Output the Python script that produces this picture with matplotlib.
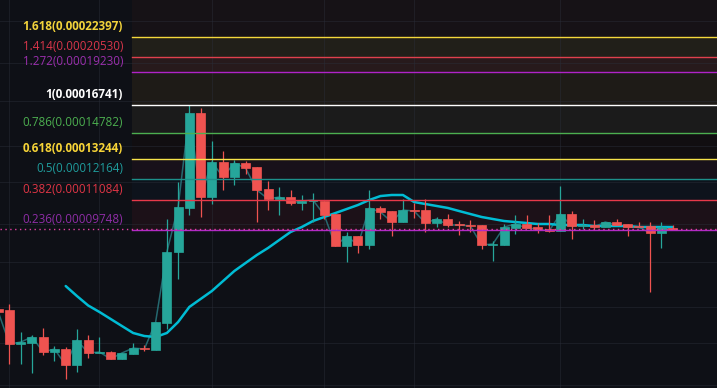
import numpy as np
import matplotlib.pyplot as plt

# candle prices, in units of 1e-8
opens = [6934, 6906, 5963, 5988, 6148, 5762, 5836, 5448, 6067, 5738,
         5762, 5592, 5713, 5861, 5812, 6529, 8869, 10720, 16135, 11240,
         13067, 12253, 13011, 12791, 11631, 11146, 11240, 10951, 11046, 11046,
         10444, 9100, 9499, 9139, 10720, 10579, 10090, 10625, 10625, 10047,
         10222, 10004, 9961, 9961, 9139, 9139, 9832, 10004, 9875, 9790,
         9706, 10444, 9918, 9961, 9875, 10090, 10004, 9918, 9918, 9622, 9832]
highs = [6934, 7088, 6281, 6201, 6390, 5912, 5887, 6363, 6201, 6148,
         5787, 5738, 5988, 5937, 6557, 10222, 11990, 16705, 16490, 14305,
         13700, 13180, 13124, 12791, 12042, 11732, 11583, 11336, 11433, 11046,
         10444, 9664, 9499, 11583, 10812, 10579, 11146, 10951, 11146, 10311,
         10444, 10134, 10178, 9961, 9297, 10004, 10400, 10400, 10047, 10400,
         11784, 10579, 10222, 10178, 10090, 10222, 10004, 10090, 10090, 10090, 9961]
lows = [6847, 5471, 5471, 5262, 5689, 5544, 5128, 5285, 5616, 5738,
        5592, 5592, 5713, 5787, 5812, 6363, 7896, 10400, 10311, 10904,
        11583, 11834, 12413, 10090, 10625, 10400, 10858, 10625, 10090, 10222,
        9100, 8495, 8831, 8983, 10222, 9499, 10090, 10266, 9664, 9875,
        9875, 9540, 9664, 8983, 8532, 9139, 9581, 9832, 9622, 9664,
        9706, 9377, 9790, 9790, 9875, 9961, 9499, 9875, 7475, 9022, 9748]
closes = [6847, 5963, 6014, 6148, 5762, 5836, 5448, 6067, 5738, 5762,
          5592, 5738, 5861, 5836, 6557, 8869, 10766, 16135, 11240, 13067,
          12253, 13011, 12735, 11583, 11146, 11240, 10951, 11046, 11094, 10400,
          9100, 9499, 9139, 10720, 10534, 10090, 10625, 10579, 10047, 10222,
          9961, 9961, 9918, 9139, 9178, 9875, 10004, 9832, 9790, 9706,
          10444, 9918, 9961, 9875, 10090, 9961, 9875, 9875, 9622, 9875, 9748]
ma = [None] * 6 + [7657, 7334, 7041, 6847, 6643, 6445, 6254, 6173, 6148, 6254,
                   6557, 6997, 7241, 7494, 7824, 8169, 8456, 8752, 9022, 9337,
                   9664, 9875, 10134, 10311, 10489, 10672, 10858, 11094, 11285, 11336,
                   11336, 10998, 10904, 10812, 10720, 10579, 10444, 10311, 10222, 10134,
                   10090, 10047, 10004, 10004, 9961, 9961, 9961, 9918, 9918, 9918,
                   9918, 9875, 9875, 9875, 9875]

fib_ratios = ['1.618', '1.414', '1.272', '1', '0.786', '0.618', '0.5', '0.382', '0.236']
fib_prices = [0.00022397, 0.00020530, 0.00019230, 0.00016741, 0.00014782,
              0.00013244, 0.00012164, 0.00011084, 0.00009748]
fib_line_colors = ['#f4d83b', '#e0404d', '#b023c8', '#ffffff', '#4caf50',
                   '#f7e34a', '#1d8f8a', '#e8394a', '#b02ac6']
fib_label_colors = ['#f2d33b', '#d9364a', '#9b2fae', '#ffffff', '#4caf50',
                    '#f7d437', '#1f9c9c', '#e03545', '#8e2da6']
fib_bold = [True, False, False, True, False, True, False, False, False]
# band above 1.618, then the bands between consecutive levels
band_colors = ['#161216', '#211f19', '#271a1c', '#1e1b17', '#1b1b1b',
               '#110e11', '#18111a', '#0e131c', '#1c1118']
fib_start = 11.9
label_x = 11.1

grid_prices = [5000, 6000, 7000, 8500, 10000, 12000, 14000, 17000, 20000, 24000]
grid_bars = [1, 9, 19, 29, 37, 50]
last_price = 9790

scale = 1e-8
o = np.array(opens) * scale
h = np.array(highs) * scale
l = np.array(lows) * scale
c = np.array(closes) * scale
x = np.arange(len(opens))

bg = '#0e1016'
up, down = '#26a69a', '#ef5350'

fig = plt.figure(figsize=(7.17, 3.88), dpi=100, facecolor=bg)
ax = fig.add_axes([0, 0, 1, 1], facecolor=bg)
ax.set_yscale('log')
x0, x1 = 0.155, 63.94
y0, y1 = 4934 * scale, 26271 * scale
ax.set_xlim(x0, x1)
ax.set_ylim(y0, y1)
ax.axis('off')

# fib bands
edges = [y1] + fib_prices
for i, col in enumerate(band_colors):
    ax.fill_between([fib_start, x1], edges[i + 1], edges[i], color=col, lw=0, zorder=0)

# grid
for gp in grid_prices:
    ax.axhline(gp * scale, color='#2a2e39', alpha=0.45, lw=0.8, zorder=0.5)
for gb in grid_bars:
    ax.axvline(gb, color='#2a2e39', alpha=0.45, lw=0.8, zorder=0.5)

# close line and moving average
ax.plot(x, c, color='#2a7f86', lw=1.1, alpha=0.8, zorder=1)
ma_x = [i for i, v in enumerate(ma) if v is not None]
ma_y = [v * scale for v in ma if v is not None]
ax.plot(ma_x, ma_y, color='#00bcd4', lw=1.8, zorder=2, solid_capstyle='round',
        solid_joinstyle='round')

# candles
colors = [up if cc >= oo else down for oo, cc in zip(o, c)]
ax.vlines(x, l, h, colors=colors, lw=0.9, zorder=3)
ax.bar(x, np.abs(c - o), bottom=np.minimum(o, c), width=0.8,
       color=colors, edgecolor=colors, lw=0.5, zorder=4)

# fib lines and labels
for r, p, lc, tc, b in zip(fib_ratios, fib_prices, fib_line_colors, fib_label_colors, fib_bold):
    ax.plot([fib_start, x1], [p, p], color=lc, lw=1.0, zorder=5)
    ax.annotate(f"{r}({p:.8f})", xy=(label_x, p), xytext=(0, 10.5),
                textcoords='offset pixels', ha='right', va='center',
                color=tc, fontsize=8.4, family=['Open Sans', 'DejaVu Sans'],
                fontweight='bold' if b else 'normal', zorder=6)

ax.axhline(last_price * scale, color='#e040a0', lw=1.0, ls=(0, (1, 2.5)), zorder=6)

fig.savefig('out.png', dpi=100, facecolor=bg)
